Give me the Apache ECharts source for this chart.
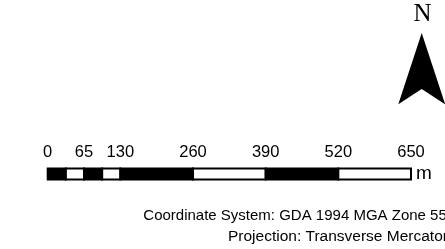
<!DOCTYPE html>
<html>
<head>
<meta charset="utf-8">
<script src="https://cdn.jsdelivr.net/npm/echarts@6/dist/echarts.min.js"></script>
<style>
html,body{margin:0;padding:0;background:#fff;}
#c{width:445px;height:249px;}
</style>
</head>
<body>
<div id="c"></div>
<script>
// Scale bar divisions (metres)
var segStarts = [0, 32.5, 65, 97.5, 130, 260, 390, 520];
var segEnds   = [32.5, 65, 97.5, 130, 260, 390, 520, 650];
var segFill   = ['black', 'white', 'black', 'white', 'black', 'white', 'black', 'white'];
var tickLabels = [0, 65, 130, 260, 390, 520, 650];
var unitLabel = ['m'];
var northLabel = 'N';
var infoLines = ['Coordinate System: GDA 1994 MGA Zone 55', 'Projection: Transverse Mercator'];

var segData = segStarts.map(function (s, i) { return [s, segEnds[i], i]; });

var chart = echarts.init(document.getElementById('c'), null, {renderer: 'canvas'});
chart.setOption({
  animation: false,
  backgroundColor: '#fff',
  grid: {left: 47.7, width: 363.3, top: 168.5, height: 11, containLabel: false},
  xAxis: {
    type: 'value', position: 'top', min: 0, max: 650,
    axisLine: {show: false}, axisTick: {show: false}, splitLine: {show: false},
    axisLabel: {
      customValues: tickLabels, margin: 8,
      color: '#000', fontFamily: 'Liberation Sans', fontSize: 16.5
    }
  },
  yAxis: {
    type: 'category', position: 'right', data: unitLabel,
    axisLine: {show: false}, axisTick: {show: false}, splitLine: {show: false},
    axisLabel: {margin: 5, color: '#000', fontFamily: 'Liberation Sans', fontSize: 19}
  },
  series: [{
    type: 'custom',
    data: segData,
    renderItem: function (params, api) {
      var a = api.coord([api.value(0), 0]);
      var b = api.coord([api.value(1), 0]);
      var h = api.size([0, 1])[1];
      return {
        type: 'rect',
        shape: {x: a[0], y: a[1] - h / 2, width: b[0] - a[0], height: h},
        style: {fill: segFill[api.value(2)], stroke: '#000', lineWidth: 2}
      };
    }
  }],
  graphic: [
    {type: 'polygon', shape: {points: [[421.7, 33], [445.2, 104.3], [421.7, 89], [398.3, 104.3]]}, style: {fill: '#000'}},
    {type: 'text', x: 422.5, y: 27, style: {text: northLabel, fill: '#000', font: '25px "Liberation Serif"', align: 'center', verticalAlign: 'bottom'}},
    {type: 'text', x: 143.3, y: 208, style: {text: infoLines[0], fill: '#000', font: '15px "Liberation Sans"', align: 'left', verticalAlign: 'top'}},
    {type: 'text', x: 228, y: 229, style: {text: infoLines[1], fill: '#000', font: '15.5px "Liberation Sans"', align: 'left', verticalAlign: 'top'}}
  ]
});
</script>
</body>
</html>
